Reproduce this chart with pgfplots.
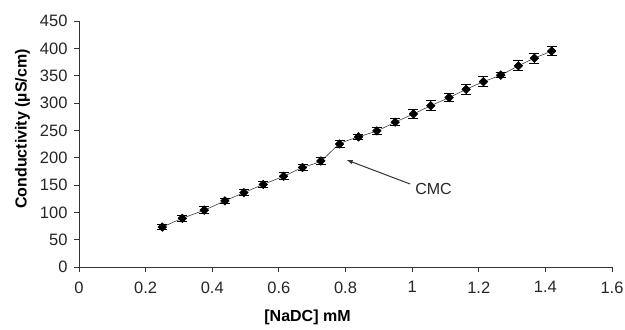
\documentclass[border=0pt]{standalone}
\usepackage{pgfplots}
\pgfplotsset{compat=1.18}
\usepackage{fontspec}
\setmainfont{Liberation Sans}
\begin{document}
\begin{tikzpicture}
\begin{axis}[
  name=ax,
  scale only axis,
  width=533pt, height=246pt,
  xmin=0, xmax=1.6, ymin=0, ymax=450,
  xtick={0,0.2,...,1.6},
  ytick={0,50,...,450},
  axis x line=bottom, axis y line=left,
  axis line style={-, line width=0.8pt, black!80},
  tick align=outside,
  major tick length=5pt,
  tick style={line width=0.8pt, black!80},
  /pgf/number format/assume math mode=true,
  /pgf/number format/fixed,
  ticklabel style={font=\fontsize{16.5}{19}\selectfont, text=black!85},
  xticklabel style={yshift=-6pt},
  yticklabel style={xshift=-3pt},
  xlabel={\textbf{[NaDC] mM}},
  ylabel={\textbf{Conductivity (µS/cm)}},
  label style={font=\fontsize{16}{18}\selectfont},
  xlabel style={at={(ticklabel cs:0.4287)}, yshift=-10pt},
  ylabel style={at={(ticklabel cs:0.561)}, yshift=3pt},
]
\addplot+[black!75, line width=0.6pt, smooth, tension=0.4,
  mark=square*, mark size=3pt,
  mark options={rotate=45, fill=black, draw=black},
  error bars/.cd, y dir=both, y explicit,
  error bar style={black, line width=0.9pt},
  error mark options={rotate=90, mark size=5pt, line width=1pt, black}]
coordinates {
(0.250,73) +- (0,4)
(0.310,89) +- (0,5)
(0.376,104) +- (0,6)
(0.438,121) +- (0,4)
(0.495,136) +- (0,5)
(0.553,151) +- (0,5)
(0.614,166) +- (0,6)
(0.671,182) +- (0,6)
(0.726,194) +- (0,6)
(0.782,225) +- (0,7)
(0.839,238) +- (0,5)
(0.894,249) +- (0,6)
(0.949,265) +- (0,7)
(1.004,280) +- (0,9)
(1.056,295) +- (0,9)
(1.111,310) +- (0,8)
(1.162,325) +- (0,9)
(1.214,339) +- (0,9)
(1.266,351) +- (0,4)
(1.319,368) +- (0,9)
(1.367,382) +- (0,9)
(1.419,395) +- (0,9)
};
\draw[-latex, line width=1pt, black!80] (axis cs:0.994,151.8) -- (axis cs:0.804,195.7);
\node[anchor=west, inner sep=0pt, font=\fontsize{16}{19}\selectfont, text=black!85] at (axis cs:1.009,143.6) {CMC};
\end{axis}
\pgfresetboundingbox
\path ([xshift=-79pt,yshift=-62pt]ax.south west) rectangle ([xshift=13pt,yshift=21pt]ax.north east);
\end{tikzpicture}
\end{document}
